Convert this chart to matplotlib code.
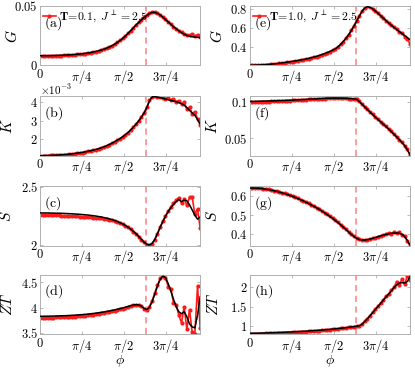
import numpy as np
import matplotlib
matplotlib.use("Agg")
import matplotlib.pyplot as plt
from matplotlib.lines import Line2D
from matplotlib.ticker import FuncFormatter

plt.rcParams['mathtext.fontset'] = 'cm'
plt.rcParams['font.family'] = ['DejaVu Serif']

phi = np.round(np.arange(61) * 0.05, 2)
phi_c = 1.98

# ---------------- T = 0.1 ----------------
G01_th = [0.00820, 0.00821, 0.00823, 0.00826, 0.00830, 0.00835, 0.00841, 0.00848, 0.00856, 0.00866,
          0.00877, 0.00890, 0.00905, 0.00922, 0.00942, 0.00964, 0.00989, 0.01018, 0.01051, 0.01089,
          0.01132, 0.01181, 0.01237, 0.01301, 0.01374, 0.01458, 0.01555, 0.01666, 0.01794, 0.01940,
          0.02100, 0.02280, 0.02480, 0.02700, 0.02930, 0.03170, 0.03410, 0.03620, 0.03840, 0.04030,
          0.04200, 0.04360, 0.04460, 0.04460, 0.04380, 0.04240, 0.04060, 0.03860, 0.03660, 0.03460,
          0.03260, 0.03080, 0.02910, 0.02760, 0.02630, 0.02530, 0.02460, 0.02410, 0.02380, 0.02360,
          0.02340]
G01_num = [0.00800, 0.00801, 0.00803, 0.00806, 0.00810, 0.00815, 0.00821, 0.00828, 0.00837, 0.00847,
           0.00858, 0.00871, 0.00886, 0.00904, 0.00924, 0.00946, 0.00972, 0.01001, 0.01035, 0.01074,
           0.01118, 0.01168, 0.01225, 0.01290, 0.01365, 0.01450, 0.01548, 0.01660, 0.01790, 0.01937,
           0.02100, 0.02280, 0.02480, 0.02700, 0.02930, 0.03170, 0.03410, 0.03620, 0.03840, 0.04040,
           0.04220, 0.04380, 0.04480, 0.04470, 0.04390, 0.04250, 0.04070, 0.03870, 0.03670, 0.03470,
           0.03270, 0.03090, 0.02920, 0.02770, 0.02650, 0.02580, 0.02520, 0.02620, 0.02450, 0.02580,
           0.02360]

K01_th = [1.12, 1.12, 1.13, 1.13, 1.14, 1.14, 1.15, 1.16, 1.17, 1.18,
          1.19, 1.20, 1.22, 1.24, 1.26, 1.28, 1.30, 1.33, 1.36, 1.39,
          1.42, 1.46, 1.50, 1.55, 1.60, 1.66, 1.73, 1.80, 1.88, 1.96,
          2.05, 2.15, 2.26, 2.38, 2.52, 2.67, 2.83, 3.01, 3.21, 3.44,
          3.72, 4.08, 4.30, 4.32, 4.29, 4.26, 4.23, 4.19, 4.15, 4.11,
          4.07, 4.04, 3.99, 3.94, 3.85, 3.72, 3.57, 3.43, 3.30, 3.08,
          2.83]
K01_num = [1.11, 1.11, 1.12, 1.12, 1.13, 1.13, 1.14, 1.15, 1.16, 1.17,
           1.18, 1.19, 1.21, 1.23, 1.25, 1.27, 1.29, 1.32, 1.35, 1.38,
           1.41, 1.45, 1.49, 1.54, 1.59, 1.65, 1.72, 1.79, 1.87, 1.95,
           2.04, 2.14, 2.25, 2.37, 2.51, 2.66, 2.82, 3.00, 3.20, 3.44,
           3.74, 4.12, 4.32, 4.33, 4.30, 4.27, 4.24, 4.20, 4.22, 4.12,
           4.20, 4.05, 4.10, 3.90, 4.00, 3.65, 3.75, 3.40, 3.50, 3.10,
           2.78]

S01_th = [2.274, 2.274, 2.274, 2.274, 2.273, 2.273, 2.272, 2.272, 2.271, 2.270,
          2.269, 2.268, 2.267, 2.265, 2.264, 2.262, 2.260, 2.258, 2.256, 2.253,
          2.250, 2.247, 2.243, 2.239, 2.234, 2.229, 2.223, 2.216, 2.208, 2.199,
          2.189, 2.178, 2.165, 2.150, 2.133, 2.114, 2.093, 2.069, 2.044, 2.020,
          2.003, 1.996, 2.010, 2.045, 2.095, 2.150, 2.200, 2.245, 2.285, 2.320,
          2.348, 2.372, 2.392, 2.372, 2.385, 2.380, 2.345, 2.300, 2.255, 2.220,
          2.240]
S01_num = [2.254, 2.254, 2.254, 2.254, 2.253, 2.253, 2.252, 2.252, 2.251, 2.250,
           2.249, 2.248, 2.247, 2.246, 2.245, 2.243, 2.242, 2.240, 2.238, 2.236,
           2.234, 2.232, 2.229, 2.226, 2.223, 2.219, 2.214, 2.209, 2.202, 2.194,
           2.185, 2.175, 2.163, 2.148, 2.131, 2.112, 2.091, 2.067, 2.042, 2.018,
           2.000, 1.993, 2.008, 2.043, 2.093, 2.150, 2.200, 2.248, 2.290, 2.325,
           2.360, 2.385, 2.408, 2.360, 2.395, 2.340, 2.410, 2.412, 2.262, 2.310,
           2.140]

ZT01_th = [3.830, 3.830, 3.831, 3.832, 3.833, 3.834, 3.835, 3.837, 3.839, 3.841,
           3.843, 3.846, 3.849, 3.852, 3.856, 3.860, 3.864, 3.869, 3.874, 3.880,
           3.886, 3.893, 3.900, 3.908, 3.917, 3.926, 3.936, 3.947, 3.958, 3.970,
           3.983, 3.996, 4.010, 4.025, 4.040, 4.053, 4.060, 4.055, 4.030, 3.985,
           3.965, 4.010, 4.120, 4.270, 4.430, 4.560, 4.625, 4.600, 4.480, 4.330,
           4.170, 4.020, 3.920, 3.880, 3.920, 3.820, 3.680, 3.620, 3.600, 3.850,
           4.220]
ZT01_num = [3.800, 3.800, 3.801, 3.802, 3.803, 3.804, 3.806, 3.808, 3.810, 3.812,
            3.815, 3.818, 3.821, 3.825, 3.829, 3.833, 3.838, 3.843, 3.849, 3.855,
            3.862, 3.869, 3.877, 3.886, 3.895, 3.905, 3.916, 3.928, 3.940, 3.953,
            3.967, 3.982, 3.998, 4.015, 4.032, 4.048, 4.058, 4.053, 4.028, 3.982,
            3.960, 4.020, 4.140, 4.290, 4.450, 4.580, 4.630, 4.590, 4.420, 4.380,
            4.100, 4.060, 3.850, 3.700, 4.020, 3.570, 3.960, 3.510, 3.480, 4.430,
            3.590]

# ---------------- T = 1.0 ----------------
G10_th = [0.205, 0.205, 0.206, 0.207, 0.208, 0.210, 0.212, 0.214, 0.216, 0.219,
          0.222, 0.225, 0.229, 0.233, 0.237, 0.241, 0.246, 0.250, 0.255, 0.260,
          0.265, 0.271, 0.277, 0.284, 0.291, 0.299, 0.308, 0.318, 0.328, 0.339,
          0.351, 0.364, 0.378, 0.400, 0.426, 0.456, 0.490, 0.528, 0.572, 0.620,
          0.672, 0.725, 0.775, 0.812, 0.828, 0.820, 0.803, 0.781, 0.756, 0.730,
          0.704, 0.678, 0.653, 0.629, 0.606, 0.584, 0.562, 0.541, 0.520, 0.498,
          0.475]
G10_num = [0.203, 0.203, 0.204, 0.205, 0.206, 0.208, 0.210, 0.212, 0.214, 0.217,
           0.220, 0.223, 0.227, 0.231, 0.235, 0.239, 0.244, 0.248, 0.253, 0.258,
           0.263, 0.269, 0.275, 0.282, 0.289, 0.297, 0.306, 0.316, 0.326, 0.337,
           0.349, 0.362, 0.377, 0.399, 0.425, 0.456, 0.491, 0.530, 0.575, 0.624,
           0.676, 0.729, 0.778, 0.814, 0.829, 0.821, 0.804, 0.782, 0.757, 0.731,
           0.705, 0.679, 0.655, 0.632, 0.612, 0.590, 0.555, 0.548, 0.505, 0.485,
           0.430]

K10_th = [0.1010, 0.1010, 0.1011, 0.1012, 0.1013, 0.1014, 0.1015, 0.1016, 0.1017, 0.1018,
          0.1019, 0.1021, 0.1022, 0.1023, 0.1025, 0.1027, 0.1028, 0.1030, 0.1032, 0.1034,
          0.1036, 0.1038, 0.1040, 0.1042, 0.1044, 0.1046, 0.1048, 0.1050, 0.1052, 0.1053,
          0.1054, 0.1055, 0.1055, 0.1055, 0.1054, 0.1053, 0.1052, 0.1050, 0.1048, 0.1045,
          0.1040, 0.1008, 0.0972, 0.0936, 0.0900, 0.0864, 0.0829, 0.0795, 0.0762, 0.0729,
          0.0696, 0.0663, 0.0629, 0.0594, 0.0558, 0.0521, 0.0483, 0.0444, 0.0400, 0.0345,
          0.0275]
K10_num = [0.1003, 0.1003, 0.1004, 0.1005, 0.1006, 0.1007, 0.1008, 0.1009, 0.1010, 0.1012,
           0.1013, 0.1015, 0.1016, 0.1018, 0.1020, 0.1022, 0.1024, 0.1026, 0.1028, 0.1030,
           0.1032, 0.1035, 0.1037, 0.1039, 0.1041, 0.1044, 0.1046, 0.1048, 0.1050, 0.1052,
           0.1053, 0.1054, 0.1055, 0.1055, 0.1054, 0.1053, 0.1052, 0.1050, 0.1048, 0.1045,
           0.1040, 0.1010, 0.0974, 0.0938, 0.0901, 0.0866, 0.0830, 0.0797, 0.0763, 0.0731,
           0.0697, 0.0665, 0.0630, 0.0597, 0.0556, 0.0524, 0.0480, 0.0447, 0.0398, 0.0348,
           0.0268]

S10_th = [0.643, 0.643, 0.643, 0.642, 0.641, 0.639, 0.637, 0.635, 0.632, 0.629,
          0.626, 0.622, 0.618, 0.614, 0.609, 0.604, 0.599, 0.593, 0.587, 0.581,
          0.575, 0.568, 0.561, 0.554, 0.546, 0.538, 0.530, 0.521, 0.512, 0.502,
          0.492, 0.482, 0.471, 0.460, 0.448, 0.436, 0.423, 0.410, 0.397, 0.386,
          0.376, 0.370, 0.367, 0.367, 0.369, 0.372, 0.376, 0.380, 0.385, 0.389,
          0.393, 0.397, 0.400, 0.403, 0.404, 0.405, 0.403, 0.398, 0.385, 0.365,
          0.340]
S10_num = [0.645, 0.645, 0.644, 0.643, 0.642, 0.640, 0.638, 0.636, 0.633, 0.630,
           0.627, 0.623, 0.619, 0.615, 0.610, 0.605, 0.600, 0.594, 0.588, 0.582,
           0.576, 0.569, 0.562, 0.555, 0.547, 0.539, 0.531, 0.522, 0.513, 0.503,
           0.493, 0.483, 0.472, 0.461, 0.449, 0.437, 0.424, 0.411, 0.398, 0.386,
           0.376, 0.370, 0.367, 0.367, 0.369, 0.372, 0.376, 0.380, 0.385, 0.390,
           0.394, 0.398, 0.405, 0.400, 0.410, 0.402, 0.408, 0.392, 0.390, 0.360,
           0.338]

ZT10_th = [0.820, 0.821, 0.822, 0.823, 0.825, 0.827, 0.829, 0.831, 0.833, 0.836,
           0.838, 0.841, 0.844, 0.847, 0.850, 0.853, 0.856, 0.860, 0.863, 0.867,
           0.871, 0.875, 0.879, 0.884, 0.888, 0.893, 0.898, 0.903, 0.909, 0.915,
           0.921, 0.927, 0.934, 0.941, 0.948, 0.956, 0.964, 0.973, 0.982, 0.991,
           1.000, 1.010, 1.050, 1.120, 1.190, 1.270, 1.350, 1.430, 1.510, 1.590,
           1.670, 1.750, 1.830, 1.910, 1.990, 2.060, 2.110, 2.120, 2.110, 2.150,
           2.280]
ZT10_num = [0.805, 0.806, 0.807, 0.808, 0.810, 0.812, 0.814, 0.816, 0.818, 0.821,
            0.823, 0.826, 0.829, 0.832, 0.835, 0.838, 0.842, 0.846, 0.850, 0.854,
            0.858, 0.862, 0.867, 0.872, 0.877, 0.882, 0.888, 0.894, 0.900, 0.907,
            0.914, 0.921, 0.929, 0.937, 0.945, 0.953, 0.962, 0.971, 0.980, 0.990,
            1.000, 1.012, 1.055, 1.125, 1.195, 1.275, 1.355, 1.435, 1.515, 1.595,
            1.675, 1.780, 1.820, 1.930, 2.000, 2.150, 2.050, 2.220, 2.080, 2.300,
            2.200]

xtick_vals = [0, np.pi / 4, np.pi / 2, 3 * np.pi / 4]
xtick_labels = [r'$0$', r'$\pi/4$', r'$\pi/2$', r'$3\pi/4$']

left_cols = [
    (G01_th, G01_num, r'$G$', '(a)', (0, 0.05), [0, 0.05], -0.125),
    (K01_th, K01_num, r'$K$', '(b)', (1.11, 4.33), [2, 3, 4], -0.155),
    (S01_th, S01_num, r'$S$', '(c)', (1.988, 2.505), [2, 2.5], -0.165),
    (ZT01_th, ZT01_num, r'$ZT$', '(d)', (3.47, 4.65), [3.5, 4, 4.5], -0.155),
]
right_cols = [
    (G10_th, G10_num, r'$G$', '(e)', (0.202, 0.834), [0.4, 0.6, 0.8], -0.155),
    (K10_th, K10_num, r'$K$', '(f)', (0.026, 0.108), [0.05, 0.1], -0.185),
    (S10_th, S10_num, r'$S$', '(g)', (0.336, 0.652), [0.4, 0.5, 0.6], -0.185),
    (ZT10_th, ZT10_num, r'$ZT$', '(h)', (0.79, 2.32), [1, 1.5, 2], -0.18),
]

fig = plt.figure(figsize=(4.15, 3.72), dpi=100)
bottoms = [0.824, 0.581, 0.339, 0.101]
height = 0.160
lefts = [0.0964, 0.602]
width = 0.386

fmt = FuncFormatter(lambda v, p: r'$%g$' % v)
red = '#ff1a1a'
grey = '#b0b0b0'

for col, (left, panels) in enumerate(zip(lefts, [left_cols, right_cols])):
    for row, (th, num, ylab, tag, ylim, yt, labx) in enumerate(panels):
        ax = fig.add_axes([left, bottoms[row], width, height])
        ax.plot(phi, num, '-o', color=red, lw=1.2, ms=3.0, mew=0, zorder=2)
        ax.plot(phi, th, '-', color='black', lw=1.1, zorder=3)
        ax.axvline(phi_c, color='#ff7f7f', ls=(0, (4, 3)), lw=1.1, zorder=1)
        ax.set_xlim(0, 3.0)
        ax.set_ylim(*ylim)
        ax.set_xticks(xtick_vals)
        ax.set_xticklabels(xtick_labels)
        ax.set_yticks(yt)
        ax.yaxis.set_major_formatter(fmt)
        ax.tick_params(direction='in', length=2.5, width=0.6, color=grey,
                       labelsize=9, top=True, right=True, pad=1.5)
        ax.tick_params(axis='x', pad=1.5)
        for s in ax.spines.values():
            s.set_color(grey)
            s.set_linewidth(0.7)
        ax.set_ylabel(ylab, fontsize=11)
        ax.yaxis.set_label_coords(labx, 0.5)
        ax.text(0.025, 0.72, r'$\mathrm{' + tag + '}$', transform=ax.transAxes,
                fontsize=10, va='center', ha='left')
        if row == 3:
            ax.set_xlabel(r'$\phi$', fontsize=10, va='top')
            ax.xaxis.set_label_coords(0.5, -0.31)
        if row == 1 and col == 0:
            ax.text(0.0, 0.995, r'$\times10^{-3}$', transform=ax.transAxes,
                    fontsize=8, va='bottom', ha='left')
        if row == 0:
            tval = '0.1' if col == 0 else '1.0'
            h = Line2D([], [], color=red, marker='o', lw=1.2, ms=3.0, mew=0)
            ax.legend([h], [r'$\mathbf{T\!=\!' + tval + r',}\ J^{\perp}=2.5$'],
                      loc='upper left', frameon=False, fontsize=8.5,
                      handlelength=1.1, handletextpad=0.3, borderaxespad=0.15,
                      borderpad=0.1)

fig.savefig('out.png', dpi=100)
